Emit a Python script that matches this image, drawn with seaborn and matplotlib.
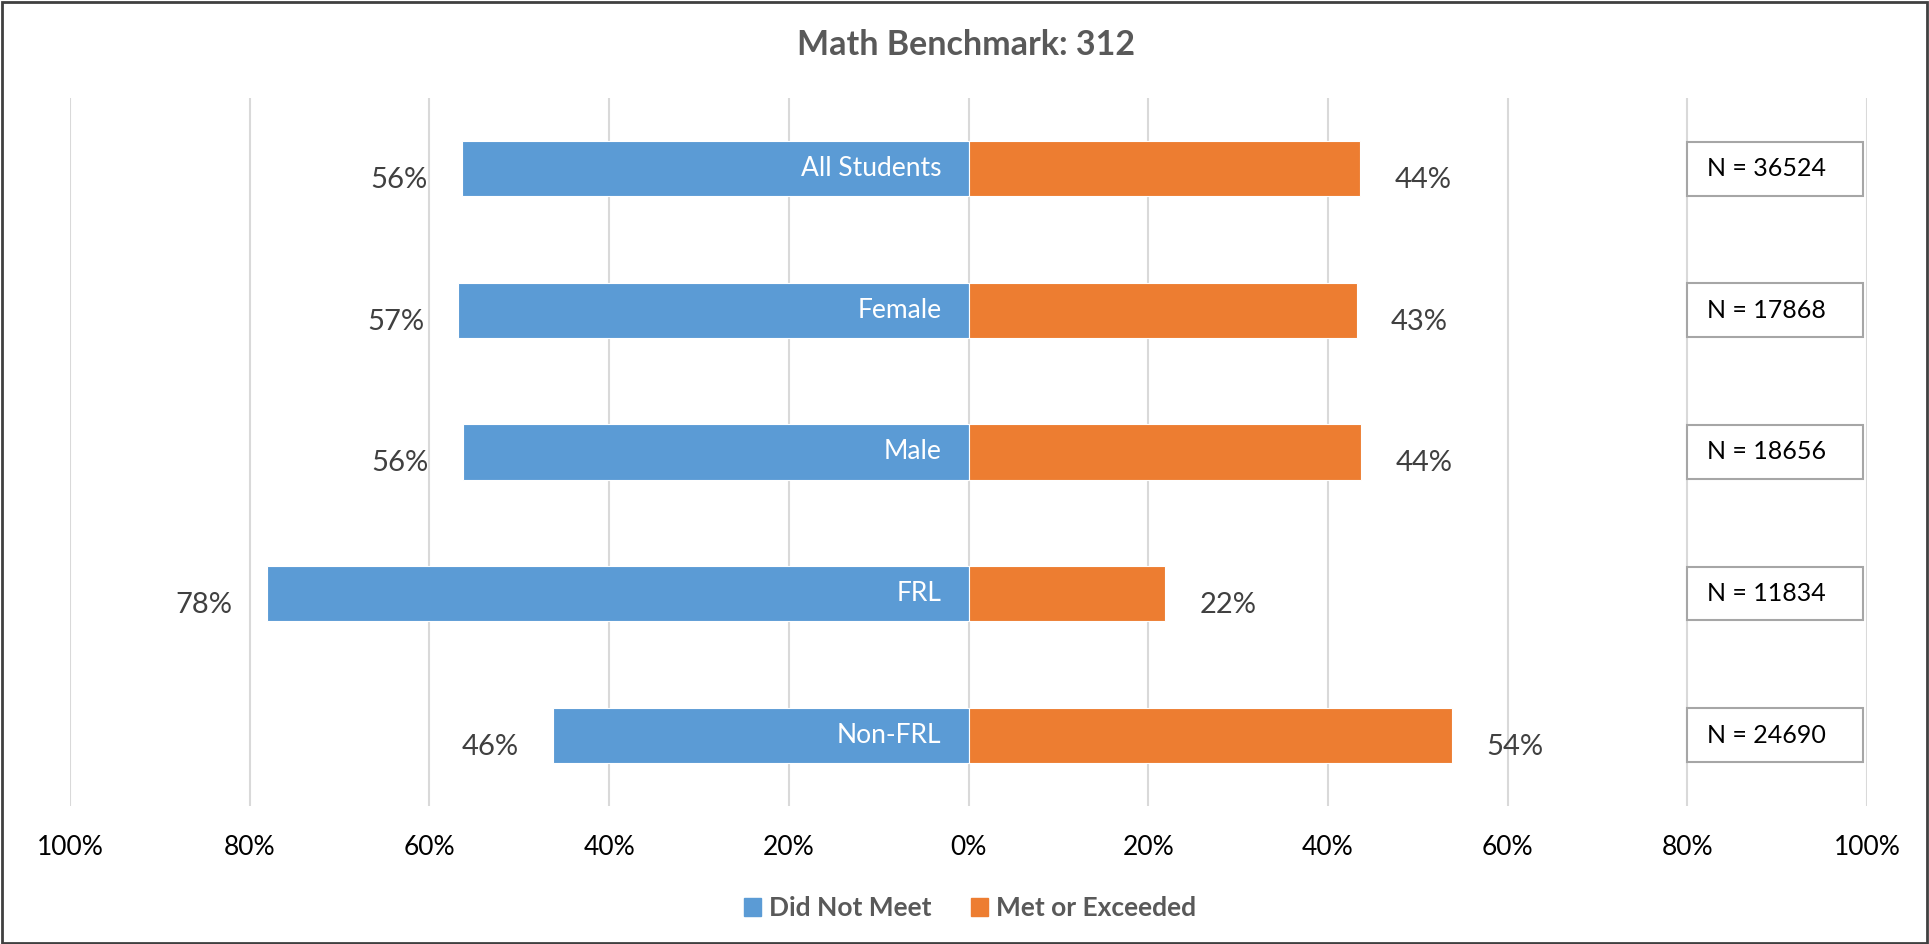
import numpy as np
import pandas as pd
import matplotlib.pyplot as plt
import matplotlib.patches as mpatches
import seaborn as sns

# data
groups = ['All Students', 'Female', 'Male', 'FRL', 'Non-FRL']
did_not_meet = [56.4, 56.8, 56.3, 78.1, 46.2]
met_or_exceeded = [43.6, 43.2, 43.7, 21.9, 53.8]
n_counts = [36524, 17868, 18656, 11834, 24690]
x_ticks = [-100, -80, -60, -40, -20, 0, 20, 40, 60, 80, 100]

blue = '#5B9BD5'
orange = '#ED7D31'
grey_txt = '#595959'

sns.set_style('white')
plt.rcParams['font.family'] = ['Lato', 'DejaVu Sans']

df = pd.DataFrame({'group': groups,
                   'dnm': [-v for v in did_not_meet],
                   'met': met_or_exceeded})

fig = plt.figure(figsize=(19.29, 9.44), dpi=100)
ax = fig.add_axes([0.0363, 0.1462, 0.9316, 0.75])

for x in x_ticks:
    ax.axvline(x, color='#D9D9D9', lw=1.5, zorder=0)

sns.barplot(data=df, x='dnm', y='group', orient='h', color=blue, width=0.39,
            saturation=1, edgecolor='white', linewidth=0.8, ax=ax, zorder=2)
sns.barplot(data=df, x='met', y='group', orient='h', color=orange, width=0.39,
            saturation=1, edgecolor='white', linewidth=0.8, ax=ax, zorder=2)

ax.set_xlim(-100, 100)
ax.set_ylim(len(groups) - 0.5, -0.5)
ax.set_xticks(x_ticks)
ax.set_xticklabels([f'{abs(x)}%' for x in x_ticks], fontsize=19, color='black')
ax.set_yticks([])
ax.set_xlabel('')
ax.set_ylabel('')
ax.tick_params(axis='x', length=0, pad=21)
for s in ax.spines.values():
    s.set_visible(False)

for i, g in enumerate(groups):
    ax.text(-did_not_meet[i] - 3.8, i + 0.08, f'{did_not_meet[i]:.0f}%', ha='right',
            va='center', fontsize=21, color='#404040')
    ax.text(met_or_exceeded[i] + 3.8, i + 0.08, f'{met_or_exceeded[i]:.0f}%', ha='left',
            va='center', fontsize=21, color='#404040')
    ax.text(-3, i, g, ha='right', va='center', fontsize=19, color='white', zorder=3)
    box = mpatches.Rectangle((80, i - 0.19), 19.6, 0.38, facecolor='white',
                             edgecolor='#A6A6A6', lw=1.5, zorder=3)
    ax.add_patch(box)
    ax.text(82.2, i, f'N = {n_counts[i]}', ha='left', va='center', fontsize=18,
            color='black', zorder=4)

fig.text(0.501, 0.952, 'Math Benchmark: 312', ha='center', va='center',
         fontsize=24.5, fontweight='bold', color=grey_txt)

handles = [mpatches.Patch(color=blue, label='Did Not Meet'),
           mpatches.Patch(color=orange, label='Met or Exceeded')]
leg = fig.legend(handles=handles, loc='center', bbox_to_anchor=(0.503, 0.038), ncol=2,
                 frameon=False, fontsize=19, handlelength=0.65, handleheight=0.65,
                 handletextpad=0.3, columnspacing=1.5)
for t in leg.get_texts():
    t.set_color(grey_txt)
    t.set_fontweight('bold')

fig.patches.append(mpatches.Rectangle((0.001, 0.001), 0.998, 0.997, transform=fig.transFigure,
                                      fill=False, edgecolor='#404040', lw=2))

fig.savefig('out.png', dpi=100)
